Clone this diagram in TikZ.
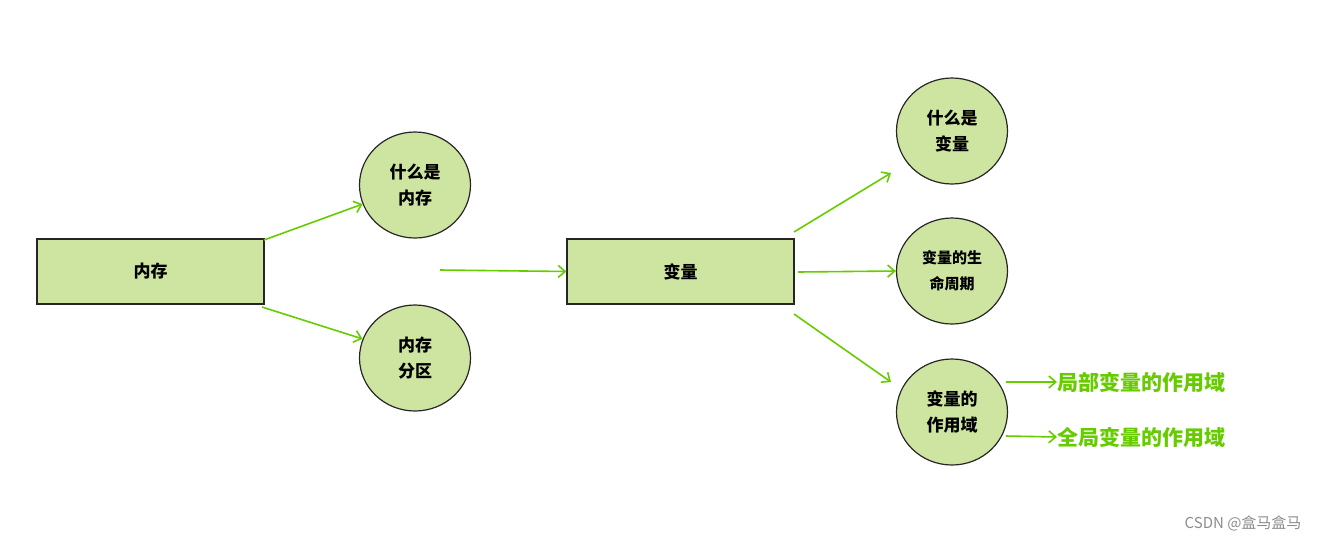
\documentclass[tikz,border=0pt]{standalone}
\usepackage{fontspec}
\newfontfamily\cjk{Noto Sans CJK SC}
\usetikzlibrary{arrows.meta}
\definecolor{fillg}{HTML}{CDE5A0}
\definecolor{arrg}{HTML}{66CC00}
\begin{document}
\begin{tikzpicture}[x=1pt,y=-1pt,
  box/.style={draw=black!85,fill=fillg,line width=1.2pt,minimum width=227pt,minimum height=65pt,inner sep=0pt,font=\cjk\bfseries\fontsize{17}{20}\selectfont},
  circ/.style={draw=black!85,fill=fillg,line width=1.2pt,ellipse,minimum width=111pt,minimum height=106pt,inner sep=0pt,align=center,font=\cjk\bfseries\fontsize{17}{26}\selectfont},
  arr/.style={draw=arrg,line width=1.6pt,-{Straight Barb[length=7pt,width=12pt]}},
  lab/.style={text=arrg,anchor=west,inner sep=0pt,font=\cjk\bfseries\fontsize{21}{24}\selectfont}]
\usetikzlibrary{shapes.geometric}
\useasboundingbox (0,0) rectangle (1318,542);
\node[box] (mem) at (150.5,271.5) {内存};
\node[box] (var) at (680.5,271.5) {变量};
\node[circ] (c1) at (415,185) {什么是\\内存};
\node[circ] (c2) at (415,358) {内存\\分区};
\node[circ] (c3) at (952,131) {什么是\\变量};
\node[circ,font=\cjk\bfseries\fontsize{15}{26}\selectfont] (c4) at (952,271) {变量的生\\命周期};
\node[circ] (c5) at (952,412) {变量的\\作用域};
\node[lab] (l1) at (1057,382) {局部变量的作用域};
\node[lab] (l2) at (1057,437) {全局变量的作用域};
\coordinate (s) at (440,270);
\draw[arr] (264,240) -- (c1.200);
\draw[arr] (262,307) -- (c2.160);
\draw[arr] (s) -- (var.west);
\draw[arr] (794,232) -- (891,173);
\draw[arr] (798,272) -- (c4.west);
\draw[arr] (794,314) -- (891,382);
\draw[arr] (1006,382) -- (l1.west);
\draw[arr] (1006,436) -- (l2.west);
\node[text=black!45,anchor=east,font=\cjk\fontsize{15}{18}\selectfont] (wm) at (1305,523) {CSDN @盒马盒马};
\end{tikzpicture}
\end{document}
